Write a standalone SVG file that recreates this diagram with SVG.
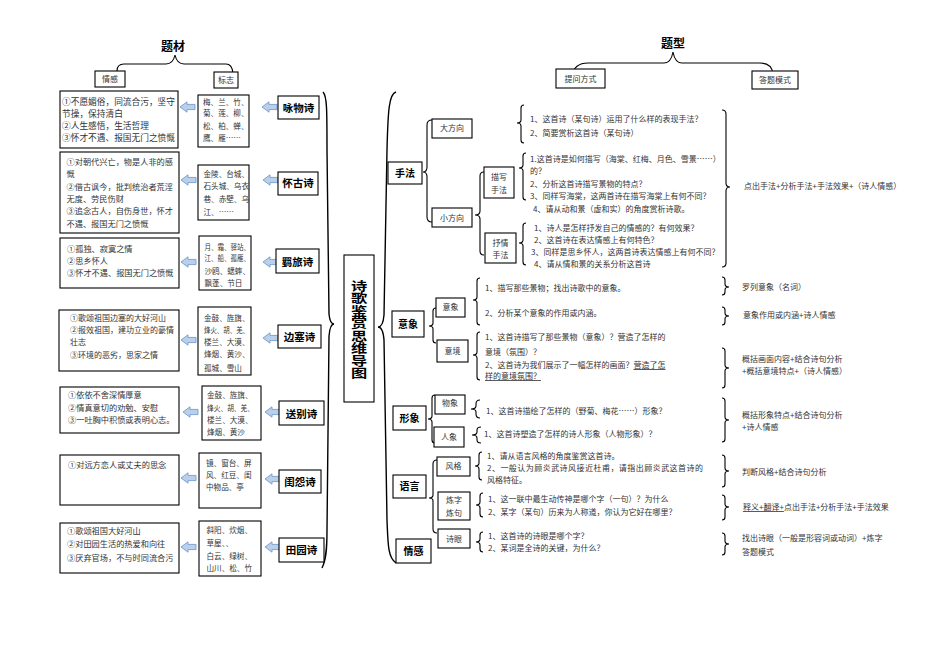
<svg xmlns="http://www.w3.org/2000/svg" width="945" height="668" viewBox="0 0 945 668">
<style>
.bx{fill:#fff;stroke:#000;stroke-width:1.1}
.t{font-family:"Noto Sans CJK SC","Noto Sans",sans-serif;fill:#333;font-size:8px}
.e1{font-size:8.7px}
.e2{font-size:8.2px}
.m{font-size:7.6px}
.c{text-anchor:middle}
.b{font-weight:bold;fill:#000;font-size:10.5px}
.bc{font-weight:bold;fill:#000;font-size:10px}
.ti{font-weight:bold;fill:#000;font-size:12px}
.br{fill:none;stroke:#000;stroke-width:1.1}
.bb{fill:none;stroke:#000;stroke-width:1.4}
.ar{fill:#b9cfea;stroke:#6a93c9;stroke-width:0.8}
.u{text-decoration:underline}
</style>
<defs>
<path id="arr" d="M0,0 L7,-5.2 L7,-2.6 L15,-2.6 L15,2.6 L7,2.6 L7,5.2 Z"/>
</defs>
<rect width="945" height="668" fill="#fff"/>

<g id="connectors">
<path class="br" d="M117,71 Q117,64 124,64 L166,64 Q173,64 175,55 Q177,64 184,64 L226,64 Q232,64 233,73"/>
<path class="br" d="M572,76 Q574,63 588,63 L664,63 Q671,63 673,52 Q675,63 682,63 L760,63 Q772,63 773,74"/>
<path class="bb" d="M323,92 C327,96 327,110 327,150 L329,314 Q330,324 334,324 Q330,324 329,336 L327,530 C327,550 326,560 322,568"/>
<path class="bb" d="M396,92 C389,94 388,110 387,150 L384,315 Q383,327 378,327 Q383,327 384,340 L387,520 C388,545 388,558 396,563"/>
<g class="ar">
<use href="#arr" x="180" y="107"/><use href="#arr" x="262" y="107"/>
<use href="#arr" x="181" y="180"/><use href="#arr" x="263" y="180"/>
<use href="#arr" x="181" y="262"/><use href="#arr" x="263" y="262"/>
<use href="#arr" x="181" y="340"/><use href="#arr" x="263" y="338"/>
<use href="#arr" x="183" y="412"/><use href="#arr" x="265" y="412"/>
<use href="#arr" x="181" y="478"/><use href="#arr" x="265" y="479"/>
<use href="#arr" x="181" y="547"/><use href="#arr" x="265" y="547"/>
</g>
<path class="br" d="M432,120 Q427,120 427,125 L427,167 Q427,172 423,172 Q427,172 427,177 L427,217 Q427,222 432,222"/>
<path class="br" d="M484,172 Q480,172 480,176 L480,211 Q480,215 475,215 Q480,215 480,219 L480,251 Q480,255 484,255"/>
<path class="br" d="M524,105 Q521,105 521,108 L521,120 Q521,123 517,123 Q521,123 521,126 L521,140 Q521,143 524,143"/>
<path class="br" d="M526,153 Q523,153 523,156 L523,165 Q523,168 519,168 Q523,168 523,171 L523,197 Q523,200 526,200"/>
<path class="br" d="M526,223 Q523,223 523,226 L523,240 Q523,243 519,243 Q523,243 523,246 L523,262 Q523,265 526,265"/>
<path class="br" d="M722,110 Q726,110 726,114 L726,183 Q726,187 730,187 Q726,187 726,191 L726,263 Q726,267 722,267"/>
<path class="br" d="M436,308 Q433,308 433,311 L433,323 Q433,326 429,326 Q433,326 433,329 L433,340 Q433,343 436,343"/>
<path class="br" d="M480,278 Q477,278 477,281 L477,297 Q477,300 473,300 Q477,300 477,303 L477,322 Q477,325 480,325"/>
<path class="br" d="M480,332 Q477,332 477,335 L477,352 Q477,355 473,355 Q477,355 477,358 L477,377 Q477,380 480,380"/>
<path class="br" d="M722,277 Q725,277 725,280 L725,284 Q725,287 729,287 Q725,287 725,290 L725,292 Q725,295 722,295"/>
<path class="br" d="M722,307 Q725,307 725,310 L725,313 Q725,316 729,316 Q725,316 725,319 L725,322 Q725,325 722,325"/>
<path class="br" d="M722,348 Q725,348 725,351 L725,365 Q725,368 729,368 Q725,368 725,371 L725,385 Q725,388 722,388"/>
<path class="br" d="M435,395 Q432,395 432,398 L432,416 Q432,419 428,419 Q432,419 432,422 L432,440 Q432,443 435,443"/>
<path class="br" d="M480,400 Q476,400 476,404 L476,406 Q476,409 471,409 Q476,409 476,412 L476,414 Q476,418 480,418"/>
<path class="br" d="M481,427 Q477,427 477,430 L477,432 Q477,435 472,435 Q477,435 477,438 L477,440 Q477,443 481,443"/>
<path class="br" d="M722,398 Q725,398 725,401 L725,417 Q725,420 729,420 Q725,420 725,423 L725,439 Q725,442 722,442"/>
<path class="br" d="M437,460 Q433,460 433,464 L433,495 Q433,498 429,498 Q433,498 433,501 L433,529 Q433,533 437,533"/>
<path class="br" d="M482,452 Q479,452 479,455 L479,463 Q479,466 475,466 Q479,466 479,469 L479,477 Q479,480 482,480"/>
<path class="br" d="M483,493 Q480,493 480,496 L480,502 Q480,505 476,505 Q480,505 480,508 L480,514 Q480,517 483,517"/>
<path class="br" d="M483,532 Q480,532 480,535 L480,539 Q480,542 476,542 Q480,542 480,545 L480,549 Q480,552 483,552"/>
<path class="br" d="M722,455 Q725,455 725,458 L725,468 Q725,471 729,471 Q725,471 725,474 L725,484 Q725,487 722,487"/>
<path class="br" d="M722,495 Q725,495 725,498 L725,504 Q725,507 729,507 Q725,507 725,510 L725,517 Q725,520 722,520"/>
<path class="br" d="M722,533 Q725,533 725,536 L725,541 Q725,544 729,544 Q725,544 725,547 L725,552 Q725,555 722,555"/>
</g>

<g id="titles">
<text class="t ti c" x="173" y="50.6">题材</text>
<text class="t ti c" x="673" y="47.6">题型</text>
</g>

<g id="hdr-qinggan"><rect class="bx" x="95" y="71" width="30" height="16"/><text class="t c" x="110" y="81.8">情感</text></g>
<g id="hdr-biaozhi"><rect class="bx" x="214" y="72" width="24" height="16"/><text class="t c" x="226" y="82.8">标志</text></g>
<g id="hdr-tiwen"><rect class="bx" x="556" y="69" width="49" height="19"/><text class="t c" x="580.5" y="81.5">提问方式</text></g>
<g id="hdr-dati"><rect class="bx" x="752" y="71" width="46" height="18"/><text class="t c" x="775" y="83">答题模式</text></g>

<g id="center"><rect class="bx" x="344" y="255" width="30" height="147"/>
<text class="t" style="font-weight:bold;fill:#000;font-size:12.5px;writing-mode:vertical-rl" writing-mode="tb" transform="translate(359,0) scale(1.3,1)" x="0" y="280">诗歌鉴赏思维导图</text>
</g>

<!-- Left section rows -->
<g id="yongwu">
<rect class="bx" x="60" y="91" width="118" height="57"/>
<text class="t e1" x="62"><tspan x="62" y="105">①不愿媚俗，同流合污，坚守</tspan><tspan x="62" y="116.5">节操，保持清白</tspan><tspan x="62" y="128.5">②人生感悟，生活哲理</tspan><tspan x="62" y="140.5">③怀才不遇、报国无门之愤慨</tspan></text>
<rect class="bx" x="198" y="95" width="51" height="52"/>
<text class="t m"><tspan x="203" y="104.6">梅、兰、竹、</tspan><tspan x="203" y="116.2">菊、莲、柳、</tspan><tspan x="203" y="128.6">松、柏、蝉、</tspan><tspan x="203" y="141.2">鹰、雁……</tspan></text>
<rect class="bx" x="278" y="96" width="41" height="23"/>
<text class="t b c" x="298.5" y="112">咏物诗</text>
</g>

<g id="huaigu">
<rect class="bx" x="60" y="152" width="119" height="81"/>
<text class="t e2"><tspan x="66.5" y="165">①对朝代兴亡，物是人非的感</tspan><tspan x="66.5" y="177.3">慨</tspan><tspan x="66.5" y="189.6">②借古讽今，批判统治者荒淫</tspan><tspan x="66.5" y="201.9">无度、劳民伤财</tspan><tspan x="66.5" y="214.2">③追念古人，自伤身世，怀才</tspan><tspan x="66.5" y="226.5">不遇、报国无门之愤慨</tspan></text>
<rect class="bx" x="198" y="165" width="51" height="55"/>
<text class="t m"><tspan x="203.5" y="176.9">金陵、台城、</tspan><tspan x="203.5" y="188.9">石头城、乌衣</tspan><tspan x="203.5" y="202.2">巷、赤壁、乌</tspan><tspan x="203.5" y="214.6">江、……</tspan></text>
<rect class="bx" x="278" y="172" width="40" height="23"/>
<text class="t b c" x="298" y="187.3">怀古诗</text>
</g>

<g id="jilv">
<rect class="bx" x="60" y="238" width="119" height="50"/>
<text class="t e2"><tspan x="67" y="251.5">①孤独、寂寞之情</tspan><tspan x="67" y="263.5">②思乡怀人</tspan><tspan x="67" y="275.5">③怀才不遇、报国无门之愤慨</tspan></text>
<rect class="bx" x="199" y="236" width="52" height="54"/>
<text class="t m"><tspan x="204.5" y="249.6" textLength="45.5" lengthAdjust="spacingAndGlyphs">月、霜、驿站、</tspan><tspan x="204.5" y="261.2" textLength="45.5" lengthAdjust="spacingAndGlyphs">江、船、孤雁、</tspan></text>
<text class="t m"><tspan x="204.5" y="273.6">沙鸥、蟋蟀、</tspan><tspan x="204.5" y="286.2">飘蓬、节日</tspan></text>
<rect class="bx" x="276" y="249" width="43" height="24"/>
<text class="t b c" x="297.5" y="265.5">羁旅诗</text>
</g>

<g id="biansai">
<rect class="bx" x="59" y="310" width="120" height="61"/>
<text class="t"><tspan x="70" y="320.7">①歌颂祖国边塞的大好河山</tspan><tspan x="70" y="333">②报效祖国，建功立业的豪情</tspan><tspan x="70" y="345.3">壮志</tspan><tspan x="70" y="358.3">③环境的恶劣，思家之情</tspan></text>
<rect class="bx" x="198" y="307" width="53" height="68"/>
<text class="t m"><tspan x="204" y="320.6">金鼓、旌旗、</tspan><tspan x="204" y="332.9" textLength="45" lengthAdjust="spacingAndGlyphs">烽火、胡、羌、</tspan></text>
<text class="t m"><tspan x="204" y="345.2">楼兰、大漠、</tspan><tspan x="204" y="357.2">烽烟、黄沙、</tspan><tspan x="204" y="370.6">孤城、雪山</tspan></text>
<rect class="bx" x="278" y="325" width="43" height="23"/>
<text class="t b c" x="299.5" y="340.5">边塞诗</text>
</g>

<g id="songbie">
<rect class="bx" x="60" y="387" width="119" height="46"/>
<text class="t e2"><tspan x="68" y="398.1">①依依不舍深情厚意</tspan><tspan x="68" y="410.8">②情真意切的劝勉、安慰</tspan><tspan x="68" y="423.1">③一吐胸中积愤或表明心志。</tspan></text>
<rect class="bx" x="202" y="386" width="59" height="54"/>
<text class="t m"><tspan x="207" y="397.9">金鼓、旌旗、</tspan><tspan x="207" y="410.6" textLength="47" lengthAdjust="spacingAndGlyphs">烽火、胡、羌、</tspan></text>
<text class="t m"><tspan x="207" y="422.9">楼兰、大漠、</tspan><tspan x="207" y="435.2">烽烟、黄沙</tspan></text>
<rect class="bx" x="279" y="401" width="45" height="24"/>
<text class="t b c" x="301.5" y="417.5">送别诗</text>
</g>

<g id="guiyuan">
<rect class="bx" x="60" y="455" width="119" height="50"/>
<text class="t e2" x="68" y="468.1">①对远方恋人或丈夫的思念</text>
<rect class="bx" x="199" y="453" width="62" height="55"/>
<text class="t m"><tspan x="206" y="465.6">镜、窗台、屏</tspan><tspan x="206" y="477.9">风、红豆、闺</tspan><tspan x="206" y="489.6">中物品、亭</tspan></text>
<rect class="bx" x="279" y="470" width="42" height="23"/>
<text class="t b c" x="300" y="485.5">闺怨诗</text>
</g>

<g id="tianyuan">
<rect class="bx" x="60" y="523" width="119" height="50"/>
<text class="t e2"><tspan x="67" y="534">①歌颂祖国大好河山</tspan><tspan x="67" y="547">②对田园生活的热爱和向往</tspan><tspan x="67" y="560.5">③厌弃官场，不与时同流合污</tspan></text>
<rect class="bx" x="199" y="521" width="62" height="55"/>
<text class="t m"><tspan x="206.5" y="532.9">斜阳、炊烟、</tspan><tspan x="206.5" y="545.6">草屋、、</tspan><tspan x="206.5" y="558.9">白云、绿树、</tspan><tspan x="206.5" y="571.2">山川、松、竹</tspan></text>
<rect class="bx" x="279" y="538" width="45" height="24"/>
<text class="t b c" x="301.5" y="554">田园诗</text>
</g>

<!-- Right section -->
<g id="shoufa">
<rect class="bx" x="388" y="162" width="34" height="22"/>
<text class="t bc c" x="405" y="176.8">手法</text>
</g>
<g id="dafangxiang">
<rect class="bx" x="432" y="119" width="40" height="19"/>
<text class="t c" x="452" y="131">大方向</text>
<text class="t"><tspan x="530" y="122">1、这首诗（某句诗）运用了什么样的表现手法？</tspan><tspan x="530" y="136">2、简要赏析这首诗（某句诗）</tspan></text>
</g>
<g id="xiaofangxiang">
<rect class="bx" x="432" y="208" width="40" height="19"/>
<text class="t c" x="452" y="220.5">小方向</text>
</g>
<g id="miaoxie">
<rect class="bx" x="484" y="167" width="30" height="31"/>
<text class="t c"><tspan x="499" y="180">描写</tspan><tspan x="499" y="192.5">手法</tspan></text>
<text class="t"><tspan x="530" y="161.5">1.这首诗是如何描写（海棠、红梅、月色、雪景……）</tspan><tspan x="530" y="174">的？</tspan><tspan x="530" y="186.5">2、分析这首诗描写景物的特点？</tspan><tspan x="530" y="199">3、同样写海棠，这两首诗在描写海棠上有何不同？</tspan><tspan x="533" y="211.5">4、请从动和景（虚和实）的角度赏析诗歌。</tspan></text>
</g>
<g id="shuqing">
<rect class="bx" x="485" y="233" width="31" height="30"/>
<text class="t c"><tspan x="500.5" y="246">抒情</tspan><tspan x="500.5" y="258">手法</tspan></text>
<text class="t"><tspan x="534" y="231">1、诗人是怎样抒发自己的情感的？有何效果？</tspan><tspan x="534" y="243">2、这首诗在表达情感上有何特色？</tspan><tspan x="531" y="255">3、同样是思乡怀人，这两首诗表达情感上有何不同？</tspan><tspan x="534" y="267">4、请从情和景的关系分析这首诗</tspan></text>
</g>
<g id="ans-shoufa"><text class="t" x="744" y="189">点出手法+分析手法+手法效果+（诗人情感）</text></g>

<g id="yixiang">
<rect class="bx" x="392" y="311" width="32" height="26"/>
<text class="t bc c" x="408" y="327.8">意象</text>
</g>
<g id="yixiang-sub">
<rect class="bx" x="436" y="298" width="29" height="19"/>
<text class="t c" x="450.5" y="309.5">意象</text>
<text class="t"><tspan x="485" y="291">1、描写那些景物；找出诗歌中的意象。</tspan><tspan x="485" y="316">2、分析某个意象的作用或内涵。</tspan></text>
</g>
<g id="yijing">
<rect class="bx" x="437" y="340" width="31" height="22"/>
<text class="t c" x="452.5" y="354">意境</text>
<text class="t"><tspan x="485" y="340">1、这首诗描写了那些景物（意象）？营造了怎样的</tspan><tspan x="485" y="355">意境（氛围）？</tspan><tspan x="485" y="368">2、这首诗为我们展示了一幅怎样的画面？<tspan class="u">营造了怎</tspan></tspan><tspan x="485" y="379" class="u">样的意境氛围？</tspan></text>
</g>
<g id="ans-yixiang">
<text class="t" x="742" y="290">罗列意象（名词）</text>
<text class="t" x="743" y="318">意象作用或内涵+诗人情感</text>
<text class="t"><tspan x="742" y="362">概括画面内容+结合诗句分析</tspan><tspan x="742" y="374">+概括意境特点+（诗人情感）</tspan></text>
</g>

<g id="xingxiang">
<rect class="bx" x="393" y="406" width="33" height="24"/>
<text class="t bc c" x="409.5" y="421.8">形象</text>
</g>
<g id="wuxiang">
<rect class="bx" x="435" y="395" width="30" height="19"/>
<text class="t c" x="450" y="406">物象</text>
<text class="t" x="486" y="414">1、这首诗描绘了怎样的（野菊、梅花……）形象？</text>
</g>
<g id="renxiang">
<rect class="bx" x="434" y="427" width="30" height="20"/>
<text class="t c" x="449" y="440">人象</text>
<text class="t" x="484" y="437">1、这首诗塑造了怎样的诗人形象（人物形象）？</text>
</g>
<g id="ans-xingxiang">
<text class="t"><tspan x="742" y="418">概括形象特点+结合诗句分析</tspan><tspan x="742" y="430">+诗人情感</tspan></text>
</g>

<g id="yuyan">
<rect class="bx" x="393" y="475" width="33" height="23"/>
<text class="t bc c" x="409.5" y="490.3">语言</text>
</g>
<g id="fengge">
<rect class="bx" x="437" y="457" width="33" height="19"/>
<text class="t c" x="453.5" y="469">风格</text>
<text class="t"><tspan x="487" y="459">1、请从语言风格的角度鉴赏这首诗。</tspan><tspan x="487" y="471" textLength="216">2、一般认为顾炎武诗风接近杜甫，请指出顾炎武这首诗的</tspan><tspan x="487" y="483">风格特征。</tspan></text>
</g>
<g id="lianzi">
<rect class="bx" x="438" y="492" width="32" height="28"/>
<text class="t c"><tspan x="454" y="503">炼字</tspan><tspan x="454" y="516">炼句</tspan></text>
<text class="t"><tspan x="488" y="502">1、这一联中最生动传神是哪个字（一句）？为什么</tspan><tspan x="488" y="515">2、某字（某句）历来为人称道，你认为它好在哪里？</tspan></text>
</g>
<g id="shiyan">
<rect class="bx" x="438" y="529" width="32" height="19"/>
<text class="t c" x="454" y="542">诗眼</text>
<text class="t"><tspan x="488" y="539">1、这首诗的诗眼是哪个字？</tspan><tspan x="488" y="551">2、某词是全诗的关键，为什么？</tspan></text>
</g>
<g id="ans-yuyan">
<text class="t" x="742" y="475">判断风格+结合诗句分析</text>
<text class="t" x="743" y="510"><tspan class="u">释义+翻译+</tspan>点出手法+分析手法+手法效果</text>
<text class="t"><tspan x="742" y="541">找出诗眼（一般是形容词或动词）+炼字</tspan><tspan x="742" y="555">答题模式</tspan></text>
</g>

<g id="qinggan">
<rect class="bx" x="396" y="539" width="35" height="24"/>
<text class="t bc c" x="413.5" y="554.8">情感</text>
</g>
</svg>
